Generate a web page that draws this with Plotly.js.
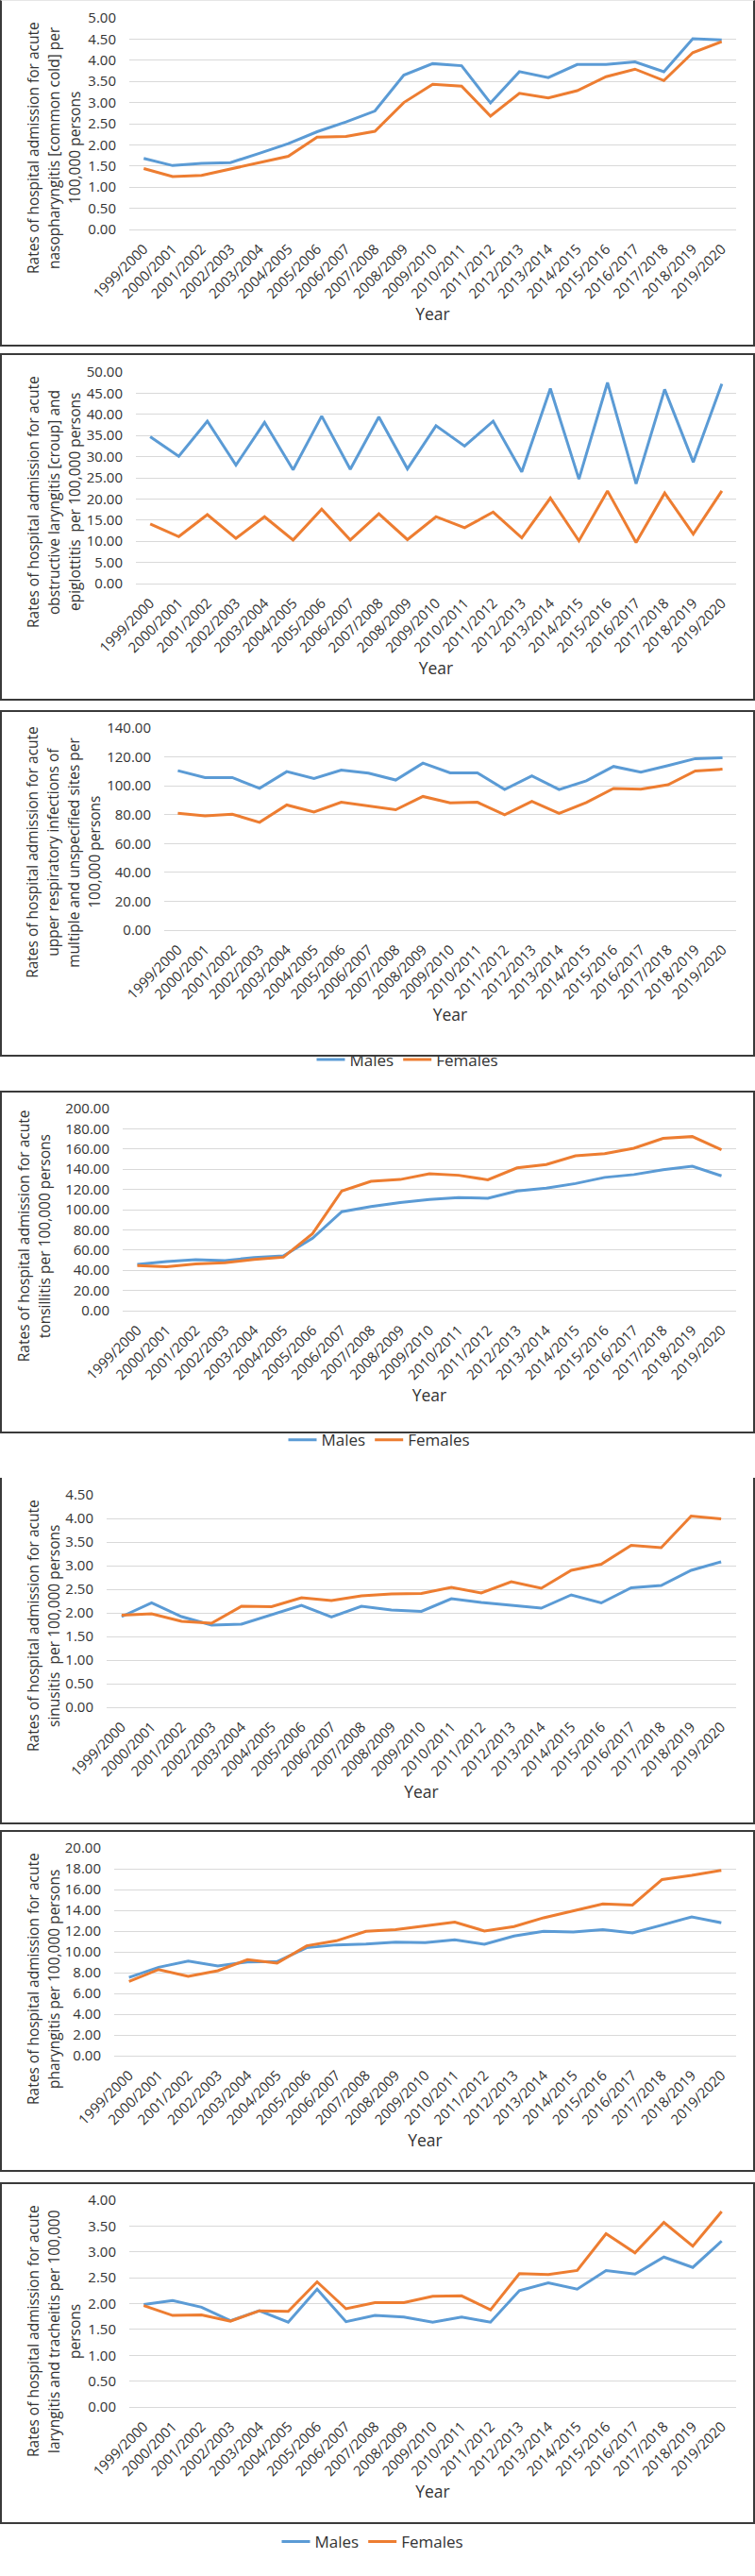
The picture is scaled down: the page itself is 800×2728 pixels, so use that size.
<!DOCTYPE html>
<html><head><meta charset="utf-8">
<script src="https://cdn.plot.ly/plotly-3.0.1.min.js"></script>
<style>
body{margin:0;background:#fff;width:800px;height:2728px;position:relative;overflow:hidden}
.p{position:absolute;left:0;width:800px}
.b{position:absolute;left:0;width:800px;box-sizing:border-box;border:2px solid #3a3a3a;pointer-events:none;z-index:5}
</style></head><body>
<script>
const years = ["1999/2000","2000/2001","2001/2002","2002/2003","2003/2004","2004/2005","2005/2006","2006/2007","2007/2008","2008/2009","2009/2010","2010/2011","2011/2012","2012/2013","2013/2014","2014/2015","2015/2016","2016/2017","2017/2018","2018/2019","2019/2020"];
const seriesNames = ["Males","Females"];

const nasoMales   = [1.68,1.51,1.56,1.58,1.80,2.03,2.31,2.54,2.80,3.65,3.92,3.87,2.99,3.73,3.59,3.90,3.90,3.96,3.73,4.51,4.48];
const nasoFemales = [1.44,1.25,1.28,1.43,1.58,1.73,2.18,2.20,2.32,3.00,3.43,3.39,2.68,3.22,3.11,3.28,3.61,3.79,3.52,4.18,4.44];

const croupMales   = [34.7,30.1,38.4,28.0,38.1,26.9,39.6,27.0,39.4,27.1,37.3,32.5,38.4,26.4,46.1,24.7,47.5,23.6,45.9,28.7,47.2];
const croupFemales = [14.1,11.1,16.3,10.7,15.8,10.3,17.6,10.3,16.5,10.4,15.8,13.2,16.9,10.8,20.2,10.1,21.9,9.7,21.4,11.7,21.9];

const urtiMales   = [110.5,105.7,105.7,98.2,109.8,105.1,110.9,108.8,104.0,115.7,109.0,109.0,97.4,106.9,97.4,103.4,113.4,109.4,114.0,118.8,119.4];
const urtiFemales = [80.9,79.1,80.3,74.7,86.7,81.8,88.6,86.1,83.4,92.6,88.2,88.6,79.9,89.2,80.9,88.4,98.2,97.6,100.7,110.3,111.5];

const tonsMales   = [45.9,48.6,50.5,49.5,52.6,54.1,71.7,97.9,103.0,107.0,110.0,111.9,111.2,118.5,121.3,125.8,131.9,134.7,139.5,142.9,133.4];
const tonsFemales = [44.7,43.5,46.2,47.4,50.8,52.9,76.3,118.5,128.0,129.8,135.6,134.0,129.5,141.3,144.7,153.2,155.3,160.8,170.5,172.3,159.3];

const sinMales   = [1.92,2.21,1.92,1.74,1.76,1.96,2.16,1.91,2.14,2.06,2.03,2.30,2.22,2.16,2.10,2.38,2.21,2.53,2.58,2.90,3.08];
const sinFemales = [1.95,1.98,1.82,1.78,2.14,2.13,2.32,2.26,2.36,2.40,2.41,2.54,2.42,2.66,2.52,2.90,3.03,3.43,3.38,4.05,3.99];

const pharMales   = [7.54,8.51,9.12,8.63,9.03,9.06,10.40,10.67,10.76,10.94,10.88,11.16,10.73,11.52,11.98,11.91,12.13,11.82,12.58,13.37,12.80];
const pharFemales = [7.14,8.30,7.63,8.18,9.24,8.91,10.58,11.06,11.98,12.13,12.49,12.86,12.01,12.43,13.28,13.98,14.62,14.50,16.96,17.36,17.84];

const laryMales   = [1.98,2.06,1.93,1.67,1.86,1.64,2.28,1.65,1.77,1.74,1.64,1.74,1.64,2.25,2.40,2.28,2.64,2.57,2.90,2.70,3.21];
const laryFemales = [1.96,1.77,1.78,1.66,1.86,1.85,2.42,1.90,2.02,2.02,2.14,2.15,1.88,2.58,2.56,2.64,3.35,2.98,3.57,3.11,3.78];

const yTitles = [
  "Rates of hospital admission for acute<br>nasopharyngitis [common cold] per<br>100,000 persons",
  "Rates of hospital admission for acute<br>obstructive laryngitis [croup] and<br>epiglottitis  per 100,000 persons",
  "Rates of hospital admission for acute<br>upper respiratory infections of<br>multiple and unspecified sites per<br>100,000 persons",
  "Rates of hospital admission for acute<br>tonsillitis per 100,000 persons",
  "Rates of hospital admission for acute<br>sinusitis  per 100,000 persons",
  "Rates of hospital admission for acute<br>pharyngitis per 100,000 persons",
  "Rates of hospital admission for acute<br>laryngitis and tracheitis per 100,000<br>persons"
];
const xTitle = "Year";
const yMax = [5, 50, 140, 200, 4.5, 20, 4];
const yStep = [0.5, 5, 20, 20, 0.5, 2, 0.5];
const maleData = [nasoMales, croupMales, urtiMales, tonsMales, sinMales, pharMales, laryMales];
const femaleData = [nasoFemales, croupFemales, urtiFemales, tonsFemales, sinFemales, pharFemales, laryFemales];

// geometry (page pixels)
const geo = [
  {top:0,    h:367, l:137, r:780, pt:19,   pb:243,  tx:57, ty:157,  leg:null, box:[0,367,false]},
  {top:374,  h:368, l:144, r:780, pt:394,  pb:618,  tx:57, ty:532,  leg:null, box:[374,742,true]},
  {top:752,  h:400, l:174, r:780, pt:771,  pb:995,  tx:67, ty:909,  leg:[432,1139], box:[752,1119,true]},
  {top:1155, h:400, l:130, r:780, pt:1174, pb:1394, tx:36, ty:1313, leg:[402,1535], box:[1155,1518,true]},
  {top:1558, h:374, l:113, r:780, pt:1583, pb:1808, tx:46, ty:1722, leg:null, box:[1565,1932,false]},
  {top:1938, h:362, l:121, r:780, pt:1957, pb:2177, tx:46, ty:2096, leg:null, box:[1938,2300,true]},
  {top:2311, h:417, l:137, r:780, pt:2330, pb:2549, tx:57, ty:2469, leg:[395,2692], box:[2311,2673,true]}
];

const FONT = "'Open Sans', 'Liberation Sans', sans-serif";
const colors = ["#5B9BD5", "#ED7D31"];
const LINE_GAP = 22;

geo.forEach((g, i) => {
  const d = document.createElement('div');
  d.className = 'p'; d.id = 'chart' + (i+1);
  d.style.top = g.top + 'px'; d.style.height = g.h + 'px';
  document.body.appendChild(d);
  const bx = document.createElement('div');
  bx.className = 'b';
  bx.style.top = g.box[0] + 'px'; bx.style.height = (g.box[1] - g.box[0]) + 'px';
  if (!g.box[2]) bx.style.borderTop = (i === 0 ? '1px solid #e6e6e6' : 'none');
  document.body.appendChild(bx);

  const pw = g.r - g.l, ph = g.pb - g.pt;
  const traces = [maleData[i], femaleData[i]].map((arr, k) => ({
    type: 'scatter', mode: 'lines', x: years, y: arr, name: seriesNames[k],
    line: {color: colors[k], width: 3}, showlegend: !!g.leg
  }));
  const lines = yTitles[i].split('<br>');
  const anns = lines.map((t, j) => ({
    text: t, xref: 'paper', yref: 'paper',
    x: (g.tx + (j - (lines.length - 1) / 2) * LINE_GAP - g.l) / pw, y: (g.pb - g.ty) / ph,
    xanchor: 'center', yanchor: 'middle', textangle: -90, showarrow: false, align: 'center',
    font: {family: FONT, size: 15.5, color: '#333'}
  }));
  const layout = {
    width: 800, height: g.h,
    margin: {l: g.l, r: 800 - g.r, t: g.pt - g.top, b: g.top + g.h - g.pb, pad: 0},
    paper_bgcolor: 'rgba(0,0,0,0)', plot_bgcolor: 'rgba(0,0,0,0)',
    font: {family: FONT, color: '#333'},
    showlegend: !!g.leg,
    xaxis: {
      type: 'category', range: [-0.5, years.length - 0.5], showgrid: false, zeroline: false,
      showline: false, ticks: '', tickangle: -45, tickfont: {family: FONT, size: 15, color: '#333'},
      ticklabelstandoff: 8,
      title: {text: xTitle, font: {family: FONT, size: 17.5, color: '#333'}, standoff: 2}
    },
    yaxis: {
      range: [0, yMax[i]], dtick: yStep[i], tick0: 0, tickformat: '.2f',
      showgrid: true, gridcolor: '#d9d9d9', gridwidth: 1, zeroline: true, zerolinecolor: '#d9d9d9', zerolinewidth: 1,
      showline: false, ticks: '', tickfont: {family: FONT, size: 15, color: '#333'}, ticklabelstandoff: 13
    },
    annotations: anns
  };
  if (g.leg) {
    layout.legend = {
      orientation: 'h', xanchor: 'center', yanchor: 'middle',
      x: (g.leg[0] - g.l) / pw, y: (g.pb - g.leg[1]) / ph,
      font: {family: FONT, size: 17, color: '#333'}, bgcolor: 'rgba(0,0,0,0)'
    };
  }
  Plotly.newPlot(d, traces, layout, {staticPlot: true, displayModeBar: false});
});
</script>
</body></html>
